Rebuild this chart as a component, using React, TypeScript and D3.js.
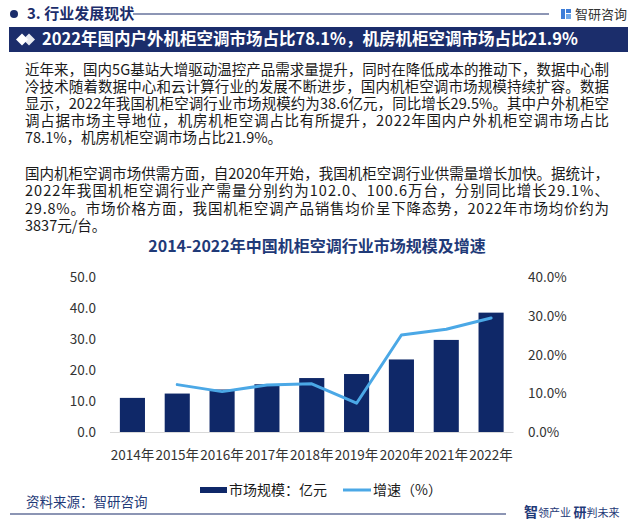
import React from "react";
import * as d3 from "d3";

const years = ["2014年", "2015年", "2016年", "2017年", "2018年", "2019年", "2020年", "2021年", "2022年"];
const marketSize = [11.1, 12.5, 13.8, 15.5, 17.5, 18.8, 23.5, 29.8, 38.6];
const growth: (number | null)[] = [null, 12.3, 10.5, 12.2, 12.5, 7.5, 25.1, 26.6, 29.5];
const leftTicks = [0, 10, 20, 30, 40, 50];
const rightTicks = [0, 10, 20, 30, 40];

const para1 = [
  "近年来，国内5G基站大增驱动温控产品需求量提升，同时在降低成本的推动下，数据中心制",
  "冷技术随着数据中心和云计算行业的发展不断进步，国内机柜空调市场规模持续扩容。数据",
  "显示，2022年我国机柜空调行业市场规模约为38.6亿元，同比增长29.5%。其中户外机柜空",
  "调占据市场主导地位，机房机柜空调占比有所提升，2022年国内户外机柜空调市场占比",
  "78.1%，机房机柜空调市场占比21.9%。",
];
const para2 = [
  "国内机柜空调市场供需方面，自2020年开始，我国机柜空调行业供需量增长加快。据统计，",
  "2022年我国机柜空调行业产需量分别约为102.0、100.6万台，分别同比增长29.1%、",
  "29.8%。市场价格方面，我国机柜空调产品销售均价呈下降态势，2022年市场均价约为",
  "3837元/台。",
];

const NAVY = "#1B2D6B";
const BAR = "#0F2868";
const LINE = "#4BA8E6";
const FONT = "'Noto Sans CJK SC', 'Noto Sans', sans-serif";

export default function App() {
  const W = 636, H = 526;
  const x = d3.scaleBand<string>().domain(years).range([110, 513.5]).paddingInner(0.44).paddingOuter(0.22);
  const yL = d3.scaleLinear().domain([0, 50]).range([432.3, 277.3]);
  const yR = d3.scaleLinear().domain([0, 40]).range([432.3, 277.3]);
  const linePts = years.map((yr, i) => ({ yr, v: growth[i] }));
  const lineGen = d3
    .line<{ yr: string; v: number | null }>()
    .defined((d) => d.v !== null)
    .x((d) => (x(d.yr) as number) + x.bandwidth() / 2)
    .y((d) => yR(d.v as number));

  const textX0 = 25, textX1 = 609;
  return (
    <svg width={W} height={H} style={{ position: "absolute", left: 0, top: 0, background: "#fff" }} fontFamily={FONT}>
      {/* header */}
      <circle cx={14} cy={14} r={4} fill={NAVY} />
      <text x={27} y={14} dy="0.36em" fontSize={15} fontWeight={700} fill={NAVY}>3. 行业发展现状</text>
      <line x1={133} x2={549} y1={14} y2={14} stroke={NAVY} strokeWidth={1} />
      <g>
        <rect x={561} y={9} width={4} height={10} fill="#3D7DD8" />
        <rect x={566} y={9} width={5} height={4} fill="#3D7DD8" />
        <rect x={566} y={14} width={5} height={5} fill="#6FA8EA" />
      </g>
      <text x={575} y={14} dy="0.36em" fontSize={13} fill="#333">智研咨询</text>

      {/* banner */}
      <rect x={9} y={27} width={619} height={25} fill={NAVY} />
      <path d="M16,39.5 L22,33.5 L28,39.5 L22,45.5 Z" fill="#fff" />
      <path d="M23,39.5 L29,33.5 L35,39.5 L29,45.5 Z" fill="#fff" opacity={0.9} />
      <text x={42} y={39.5} dy="0.36em" fontSize={16.5} fontWeight={700} fill="#fff">
        2022年国内户外机柜空调市场占比78.1%，机房机柜空调市场占比21.9%
      </text>

      {/* paragraphs */}
      {para1.map((t, i) => (
        <text key={"p1" + i} x={textX0} y={70 + i * 17} dy="0.36em" fontSize={14.5} fill="#1a1a1a"
          {...(i < para1.length - 1 ? { textLength: textX1 - textX0, lengthAdjust: "spacing" } : {})}>
          {t}
        </text>
      ))}
      {para2.map((t, i) => (
        <text key={"p2" + i} x={textX0} y={173.5 + i * 17.5} dy="0.36em" fontSize={14.5} fill="#1a1a1a"
          {...(i < para2.length - 1 ? { textLength: textX1 - textX0, lengthAdjust: "spacing" } : {})}>
          {t}
        </text>
      ))}

      {/* chart title */}
      <text x={317} y={246.5} dy="0.36em" textAnchor="middle" fontSize={16} fontWeight={700} fill="#1F3A78">
        2014-2022年中国机柜空调行业市场规模及增速
      </text>

      {/* left ticks */}
      {leftTicks.map((t) => (
        <text key={"l" + t} x={96} y={yL(t)} dy="0.36em" textAnchor="end" fontSize={13.5} fill="#333">
          {t.toFixed(1)}
        </text>
      ))}
      {rightTicks.map((t) => (
        <text key={"r" + t} x={528} y={yR(t)} dy="0.36em" textAnchor="start" fontSize={13.5} fill="#333">
          {t.toFixed(1)}%
        </text>
      ))}

      {/* bars */}
      {years.map((yr, i) => (
        <rect key={yr} x={x(yr)} y={yL(marketSize[i])} width={x.bandwidth()} height={yL(0) - yL(marketSize[i])} fill={BAR} />
      ))}
      <line x1={110} x2={513.5} y1={432.5} y2={432.5} stroke="#D9D9D9" strokeWidth={1} />
      <path d={lineGen(linePts) || ""} fill="none" stroke={LINE} strokeWidth={3} strokeLinejoin="round" strokeLinecap="round" />

      {/* x labels */}
      {years.map((yr) => (
        <text key={"x" + yr} x={(x(yr) as number) + x.bandwidth() / 2} y={455} dy="0.36em" textAnchor="middle" fontSize={13.5} fill="#333">
          {yr}
        </text>
      ))}

      {/* legend */}
      <rect x={200} y={487} width={27} height={6} fill={BAR} />
      <text x={229} y={490} dy="0.36em" fontSize={14} fill="#1a1a1a">市场规模：亿元</text>
      <line x1={343} x2={371} y1={490} y2={490} stroke={LINE} strokeWidth={3} />
      <text x={373} y={490} dy="0.36em" fontSize={14} fill="#1a1a1a">增速（%）</text>

      {/* footer */}
      <text x={26} y={502} dy="0.36em" fontSize={13.5} fill="#1F3A78">资料来源：智研咨询</text>
      <line x1={10} x2={506} y1={514} y2={514} stroke={NAVY} strokeWidth={1.2} />
      <text x={524} y={513} dy="0.36em" fontSize={11} fill="#1F3A78">
        <tspan fontSize={14} fontWeight={700}>智</tspan>
        <tspan>领产业 </tspan>
        <tspan fontSize={13} fontWeight={700}>研</tspan>
        <tspan>判未来</tspan>
      </text>
    </svg>
  );
}
